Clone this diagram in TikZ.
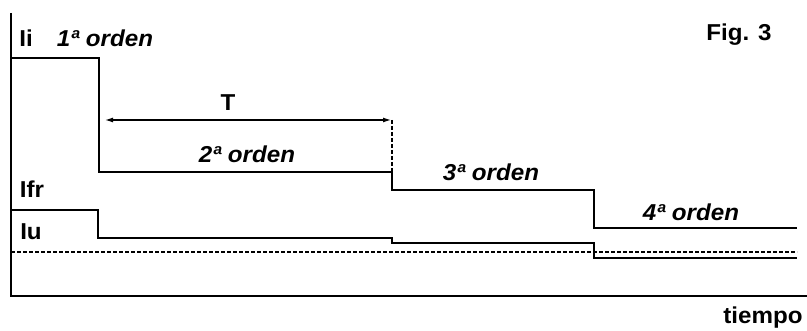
\documentclass[tikz,border=0pt]{standalone}
\usepackage{fontspec}
\setmainfont{Liberation Sans}
\newfontfamily\ancha[FakeStretch=1.05]{Liberation Sans}
\usetikzlibrary{arrows.meta}
\tikzset{
	eje/.style={line width=2.6pt},
	escalon/.style={line width=1.6pt},
	guia/.style={line width=1.1pt, dash pattern=on 4pt off 2pt},
	rotulo/.style={font=\ancha\bfseries\fontsize{23}{23}\selectfont, inner sep=0pt},
	orden/.style={font=\ancha\bfseries\itshape\fontsize{23}{23}\selectfont, inner sep=0pt}
}

\begin{document}
\begin{tikzpicture}[x=1pt, y=-1pt]
			%%%%% START %%%%%
			\useasboundingbox (0, 0) rectangle (807, 331);
			
			% ejes
			\draw[eje] (11, 13) -- (11, 296) -- (807, 296);
			
			% corriente Ii por ordenes
			\draw[escalon] (11, 58) -- (99, 58) -- (99, 172) -- (392, 172) -- (392, 190) -- (594, 190) -- (594, 228) -- (797, 228);
			
			% corriente Ifr
			\draw[escalon] (11, 210) -- (98, 210) -- (98, 238) -- (392, 238) -- (392, 243) -- (594, 243) -- (594, 258) -- (797, 258);
			
			% Iu
			\draw[guia] (11, 252) -- (797, 252);
			
			% tiempo T
			\draw[line width=1.2pt, {Latex[length=8pt, width=5pt]}-{Latex[length=8pt, width=5pt]}] (105, 120) -- (391, 120);
			\draw[guia] (392, 120) -- (392, 172);
			
			\node[rotulo] (ii) at (26, 38) {Ii};
			\node[orden] (orden1) at (105, 38) {1ª orden};
			\node[rotulo] (t) at (228, 103) {T};
			\node[orden] (orden2) at (247, 154) {2ª orden};
			\node[orden] (orden3) at (491, 172) {3ª orden};
			\node[orden] (orden4) at (691, 212) {4ª orden};
			\node[rotulo] (fig) at (739, 35) {Fig. 3};
			\node[rotulo] (ifr) at (32, 189) {Ifr};
			\node[rotulo] (iu) at (31, 232) {Iu};
			\node[rotulo] (tiempo) at (763, 318) {tiempo};
			
			%%%%% END %%%%%
\end{tikzpicture}
\end{document}
